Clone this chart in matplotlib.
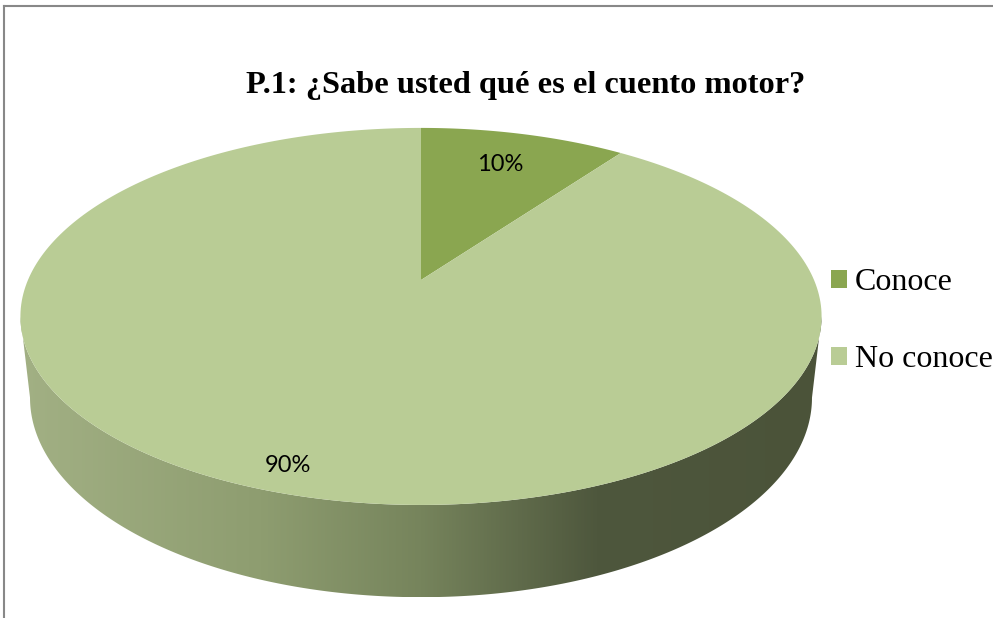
import numpy as np
import matplotlib
matplotlib.use("Agg")
import matplotlib.pyplot as plt
from matplotlib.patches import Polygon, Patch
from matplotlib.lines import Line2D
from matplotlib.colors import LinearSegmentedColormap

# ---- data ----
title = "P.1: ¿Sabe usted qué es el cuento motor?"
categories = ["Conoce", "No conoce"]
values = [10, 90]
pct_labels = ["10%", "90%"]

# ---- styles ----
colors = ["#8AA650", "#B9CC95"]
side_stops = [0.0, 0.3, 0.5, 0.72, 1.0]
side_colors = ["#A2B084", "#8E9D70", "#76845C", "#4E573D", "#4B5339"]
label_radius = [0.74, 0.91]

W, H = 993, 618
fig = plt.figure(figsize=(W / 100, H / 100), dpi=100)
ax = fig.add_axes([0, 0, 1, 1])
ax.set_xlim(0, W)
ax.set_ylim(H, 0)
ax.axis("off")

# perspective camera
elev = np.deg2rad(27.5)
c, s = np.cos(elev), np.sin(elev)
D = 4.59
f = 1804.0
cx, cy = 421.0, 280.0
depth_h = 0.235


def proj(x, y, z):
    d = D + y * c - z * s
    X = f * x / d
    Y = f * (y * s + z * c) / d
    return cx + X, cy - Y


# side of the cylinder
def silhouette(z):
    a = np.arcsin(c / (D - z * s))
    return np.pi + a, 2 * np.pi - a

tl, tr = silhouette(0.0)
bl, br = silhouette(-depth_h)
tt = np.linspace(tl, tr, 400)
bt = np.linspace(br, bl, 400)
xs_t, ys_t = proj(np.cos(tt), np.sin(tt), 0.0)
xs_b, ys_b = proj(np.cos(bt), np.sin(bt), -depth_h)
side_x = np.concatenate([xs_t, xs_b])
side_y = np.concatenate([ys_t, ys_b])
side_poly = Polygon(np.column_stack([side_x, side_y]), closed=True,
                    facecolor="none", edgecolor="none")
ax.add_patch(side_poly)
cmap = LinearSegmentedColormap.from_list("side", list(zip(side_stops, side_colors)))
grad = np.linspace(0, 1, 512).reshape(1, -1)
x0, x1 = side_x.min(), side_x.max()
y0, y1 = side_y.min(), side_y.max()
im = ax.imshow(grad, cmap=cmap, aspect="auto", extent=[x0, x1, y1, y0],
               interpolation="bilinear", zorder=1)
im.set_clip_path(side_poly)

# top face wedges (clockwise from 12 o'clock)
total = float(sum(values))
start = 90.0
for i, v in enumerate(values):
    sweep = v / total * 360.0
    t = np.deg2rad(np.linspace(start, start - sweep, 300))
    px, py = proj(np.cos(t), np.sin(t), 0.0)
    ox, oy = proj(0.0, 0.0, 0.0)
    pts = np.column_stack([np.concatenate([[ox], px]), np.concatenate([[oy], py])])
    ax.add_patch(Polygon(pts, closed=True, facecolor=colors[i], edgecolor="none",
                         zorder=2, antialiased=True))
    mid = np.deg2rad(start - sweep / 2)
    r = label_radius[i]
    lx, ly = proj(r * np.cos(mid), r * np.sin(mid), 0.0)
    ax.text(lx, ly - 3, pct_labels[i], ha="center", va="center", fontsize=17,
            family="Lato", color="black", zorder=3)
    start -= sweep

# title
fig.text(526 / W, 1 - 86 / H, title, ha="center", va="center",
         family="Liberation Serif", fontweight="bold", fontsize=23.3)

# legend
handles = [Patch(facecolor=col, edgecolor="none") for col in colors]
fig.legend(handles, categories, loc="center left",
           bbox_to_anchor=(831 / W, 1 - 321 / H), frameon=False,
           prop={"family": "Liberation Serif", "size": 23},
           handlelength=0.5, handleheight=0.5, handletextpad=0.25,
           labelspacing=1.5, borderpad=0, borderaxespad=0)

# chart border (top and left visible)
fig.add_artist(Line2D([4 / W, 1], [1 - 6 / H, 1 - 6 / H], color="#888888", lw=1.5,
                      transform=fig.transFigure))
fig.add_artist(Line2D([4 / W, 4 / W], [0, 1 - 6 / H], color="#888888", lw=1.5,
                      transform=fig.transFigure))

fig.savefig("out.png", dpi=100)
